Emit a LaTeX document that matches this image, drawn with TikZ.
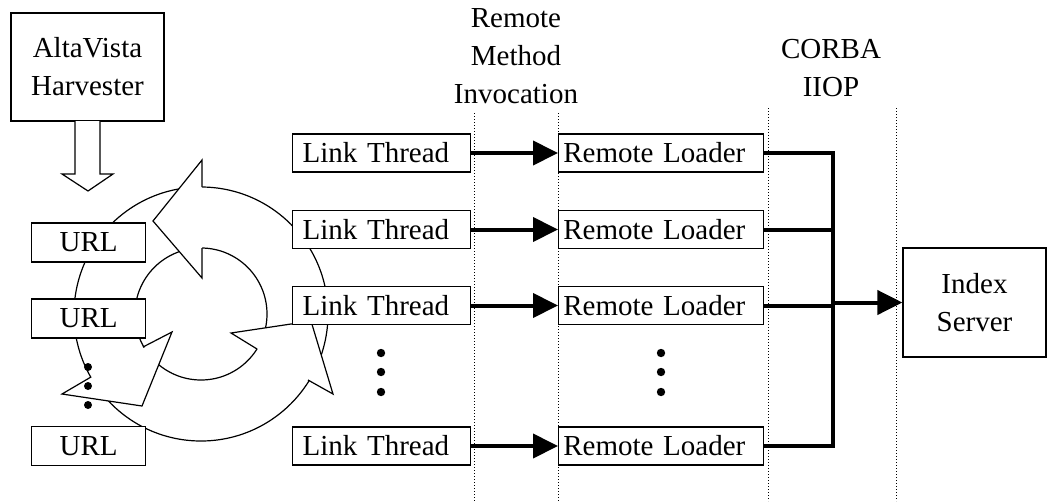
\documentclass[tikz,border=0pt]{standalone}
\usepackage{fontspec}
\setmainfont{Liberation Serif}
\usetikzlibrary{arrows.meta}
\begin{document}
\begin{tikzpicture}[x=1pt,y=-1pt,
  every node/.style={font=\fontsize{29}{38}\selectfont, inner sep=0pt},
  box/.style={draw, line width=1.2pt, fill=white},
  ltbox/.style={box, anchor=west, minimum height=38pt, text width=158pt, inner xsep=10pt, align=left},
  rlbox/.style={box, anchor=west, minimum height=38pt, text width=195.6pt, inner xsep=4.7pt, align=left},
  urlbox/.style={box, anchor=west, minimum width=114pt, minimum height=39pt},
  outline/.style={line width=1.2pt, line join=miter},
  divider/.style={dotted, line width=1pt},
  busline/.style={line width=4pt, line join=miter},
  bigarrow/.style={line width=4pt, -{Triangle[length=25pt,width=24pt]}}
]
\useasboundingbox (0,0) rectangle (1049,501);

% dividers
\draw[divider] (474,113) -- (474,501);
\draw[divider] (558,113) -- (558,501);
\draw[divider] (768,108) -- (768,501);
\draw[divider] (896,108) -- (896,501);

% cycle ring
\filldraw[fill=white, outline, even odd rule] (201,314) circle[radius=127pt] (201,314) circle[radius=66pt];
% top head
\fill[white] (202,160) -- (153,221) -- (202,278) -- cycle;
\draw[outline] (202,187) -- (202,160) -- (153,221) -- (202,278) -- (202,248);
% lower right head
\fill[white] (333,394) -- (311,321) -- (231,333) -- cycle;
\draw[outline] (308,380) -- (333,394) -- (311,321) -- (231,333) -- (257,349);
% lower left head
\fill[white] (62,394) -- (142,406) -- (172,332) -- cycle;
\draw[outline] (91,377) -- (62,394) -- (142,406) -- (172,332) -- (143,347);

% AltaVista
\node[box, minimum width=153pt, minimum height=108pt, align=center] (AV) at (87.5,67) {AltaVista\\Harvester};
\draw[outline, fill=white] (75,121) -- (75,174) -- (62,174) -- (88,191) -- (113,174) -- (100,174) -- (100,121);

% URL boxes
\node[urlbox] (U1) at (31,242.5) {URL};
\node[urlbox] (U2) at (31,318.5) {URL};
\node[urlbox] (U3) at (31,446) {URL};

% Link threads
\node[ltbox] (LT1) at (292,153) {Link Thread};
\node[ltbox] (LT2) at (292,229.5) {Link Thread};
\node[ltbox] (LT3) at (292,305.5) {Link Thread};
\node[ltbox] (LT4) at (292,446) {Link Thread};

% Remote loaders
\node[rlbox] (RL1) at (558,153) {Remote Loader};
\node[rlbox] (RL2) at (558,229.5) {Remote Loader};
\node[rlbox] (RL3) at (558,305.5) {Remote Loader};
\node[rlbox] (RL4) at (558,446) {Remote Loader};

% Index server
\node[box, minimum width=143pt, minimum height=109pt, align=center] (IS) at (974.5,302.5) {Index\\Server};

% labels
\node[align=center] (rmi) at (516,56.4) {Remote\\Method\\Invocation};
\node[align=center] (corba) at (831,68.4) {CORBA\\IIOP};

% arrows
\draw[bigarrow] (LT1.east) -- (RL1.west);
\draw[bigarrow] (LT2.east) -- (RL2.west);
\draw[bigarrow] (LT3.east) -- (RL3.west);
\draw[bigarrow] (LT4.east) -- (RL4.west);

% bus
\coordinate (bt) at (833,153);
\coordinate (bb) at (833,446);
\coordinate (bm) at (833,302.5);
\draw[busline] (RL1.east) -- (bt) -- (bb) -- (RL4.east);
\draw[busline] (RL2.east) -- (RL2.east -| bt);
\draw[busline] (RL3.east) -- (RL3.east -| bt);
\draw[bigarrow] (bm) -- (IS.west);

% dots
\foreach \y in {367,386,405} \fill (88,\y) circle[radius=4pt];
\foreach \y in {353,372,392} {\fill (381,\y) circle[radius=4.2pt]; \fill (661,\y) circle[radius=4.2pt];}
\end{tikzpicture}
\end{document}
